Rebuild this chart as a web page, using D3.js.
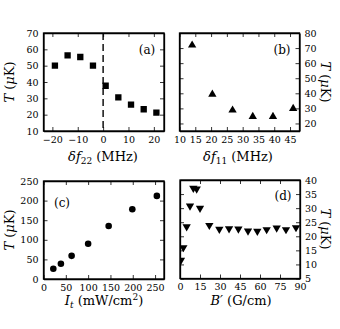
<!DOCTYPE html>
<html>
<head>
<meta charset="utf-8">
<script src="https://cdn.jsdelivr.net/npm/d3@7"></script>
<style>
  body { margin: 0; background: #fff; }
  svg text { fill: #000; }
  .axis path, .axis line { stroke: #000; }
</style>
</head>
<body>
<svg id="chart" width="340" height="329"></svg>
<script>
// panel (a): detuning of f=2 -> f'=2 beam
var a_x = [-19, -14, -9, -4, 1, 6, 11, 16, 21];
var a_y = [50, 56.3, 55.3, 50, 37.7, 30.6, 26.1, 23.3, 21.3];
var a_xticks = [-20, -10, 0, 10, 20];
var a_yticks = [10, 20, 30, 40, 50, 60, 70];

// panel (b): detuning of f=1 -> f'=1 beam
var b_x = [14, 20.4, 26.8, 33.2, 39.6, 46];
var b_y = [71.9, 39.3, 28.8, 24.6, 24.6, 29.9];
var b_xticks = [10, 15, 20, 25, 30, 35, 40, 45];
var b_yticks = [20, 30, 40, 50, 60, 70, 80];

// panel (c): total intensity
var c_x = [22, 39, 63, 100, 146, 199, 254];
var c_y = [26, 39, 59, 90, 135, 178, 212];
var c_xticks = [0, 50, 100, 150, 200, 250];
var c_yticks = [0, 50, 100, 150, 200, 250];

// panel (d): field gradient
var d_x = [0.7, 2.5, 5, 7.5, 10, 12.5, 15, 22, 29.5, 36.8, 43.8, 51, 58, 65, 72.5, 79.5, 87];
var d_y = [11.5, 16, 23.4, 30.8, 37.1, 36.8, 30, 23.9, 22.5, 22.7, 22.6, 21.9, 21.8, 22.4, 23, 22.4, 23.1];
var d_xticks = [0, 15, 30, 45, 60, 75, 90];
var d_yticks = [5, 10, 15, 20, 25, 30, 35, 40];

var serif = "'DejaVu Serif', serif";
var svg = d3.select("#chart");

function make_panel(opt) {
    var xScale = d3.scaleLinear().domain(opt.xdom).range([opt.left, opt.right]);
    var yScale = d3.scaleLinear().domain(opt.ydom).range([opt.bottom, opt.top]);
    var g = svg.append("g");

    // ticks pointing inward on all four sides
    g.append("g").attr("class", "axis")
        .attr("transform", "translate(0," + opt.bottom + ")")
        .call(d3.axisBottom(xScale).tickValues(opt.xticks).tickSize(-4).tickSizeOuter(0).tickPadding(5)
            .tickFormat(function(d) { return d < 0 ? "\u2212" + Math.abs(d) : d; }));
    g.append("g").attr("class", "axis")
        .attr("transform", "translate(0," + opt.top + ")")
        .call(d3.axisTop(xScale).tickValues(opt.xticks).tickSize(-4).tickSizeOuter(0).tickFormat(""));

    var yLeft = d3.axisLeft(yScale).tickValues(opt.yticks).tickSize(-4).tickSizeOuter(0);
    var yRight = d3.axisRight(yScale).tickValues(opt.yticks).tickSize(-4).tickSizeOuter(0);
    if (opt.yside == "left") {
        yLeft.tickPadding(5);
        yRight.tickFormat("");
    } else {
        yRight.tickPadding(5);
        yLeft.tickFormat("");
    }
    g.append("g").attr("class", "axis")
        .attr("transform", "translate(" + opt.left + ",0)")
        .call(yLeft);
    g.append("g").attr("class", "axis")
        .attr("transform", "translate(" + opt.right + ",0)")
        .call(yRight);

    g.selectAll(".axis").attr("font-family", serif).attr("font-size", 9.5);
    g.selectAll(".axis path").attr("stroke-width", 1.3);
    g.selectAll(".axis line").attr("stroke-width", 0.8);
    g.selectAll(".axis text").attr("fill", "#000");

    // frame
    g.append("rect")
        .attr("x", opt.left).attr("y", opt.top)
        .attr("width", opt.right - opt.left).attr("height", opt.bottom - opt.top)
        .attr("fill", "none").attr("stroke", "#000").attr("stroke-width", 1.3);

    var clipId = "clip" + opt.tag;
    svg.append("clipPath").attr("id", clipId)
        .append("rect")
        .attr("x", opt.left).attr("y", opt.top - 6)
        .attr("width", opt.right - opt.left + 6).attr("height", opt.bottom - opt.top + 12);

    if (opt.vline != null) {
        g.append("line")
            .attr("x1", xScale(opt.vline)).attr("x2", xScale(opt.vline))
            .attr("y1", opt.top).attr("y2", opt.bottom)
            .attr("stroke", "#000").attr("stroke-width", 1.4)
            .attr("stroke-dasharray", "7,4");
    }

    var pts = opt.xs.map(function(x, i) { return [x, opt.ys[i]]; });
    g.append("g").attr("clip-path", "url(#" + clipId + ")")
        .selectAll("path.pt")
        .data(pts)
        .enter().append("path")
        .attr("class", "pt")
        .attr("d", d3.symbol().type(opt.symbol).size(opt.size))
        .attr("transform", function(d) {
            return "translate(" + xScale(d[0]) + "," + yScale(d[1]) + ")" + (opt.flip ? " rotate(180)" : "");
        })
        .attr("fill", "#000");

    // panel tag
    g.append("text")
        .attr("x", opt.tagX).attr("y", opt.tagY)
        .attr("text-anchor", "middle")
        .attr("font-family", serif)
        .attr("font-size", "12px")
        .text(opt.name);

    return g;
}

make_panel({ name: "(a)", tag: "a", left: 43.5, right: 164, top: 33, bottom: 131,
    xdom: [-23.5, 24], ydom: [10, 70], xticks: a_xticks, yticks: a_yticks,
    xs: a_x, ys: a_y, symbol: d3.symbolSquare, size: 40, yside: "left",
    vline: 0, tagX: 147, tagY: 54 });

make_panel({ name: "(b)", tag: "b", left: 179.5, right: 299.5, top: 33, bottom: 131,
    xdom: [10, 48], ydom: [15, 80], xticks: b_xticks, yticks: b_yticks,
    xs: b_x, ys: b_y, symbol: d3.symbolTriangle, size: 30, yside: "right",
    tagX: 282, tagY: 54 });

make_panel({ name: "(c)", tag: "c", left: 43.5, right: 164, top: 181, bottom: 279,
    xdom: [0, 270], ydom: [0, 250], xticks: c_xticks, yticks: c_yticks,
    xs: c_x, ys: c_y, symbol: d3.symbolCircle, size: 34, yside: "left",
    tagX: 62, tagY: 207 });

make_panel({ name: "(d)", tag: "d", left: 180, right: 300, top: 180, bottom: 278.5,
    xdom: [0, 90], ydom: [5, 40], xticks: d_xticks, yticks: d_yticks,
    xs: d_x, ys: d_y, symbol: d3.symbolTriangle, size: 30, flip: true, yside: "right",
    tagX: 283, tagY: 200 });

// axis titles
function t_label(x, y, rot) {
    var t = svg.append("text")
        .attr("font-family", serif)
        .attr("font-size", "13px")
        .attr("text-anchor", "middle")
        .attr("transform", "translate(" + x + "," + y + ") rotate(" + rot + ")");
    t.append("tspan").attr("font-style", "italic").text("T");
    t.append("tspan").text(" (");
    t.append("tspan").attr("font-style", "italic").text("\u03bc");
    t.append("tspan").text("K)");
}
t_label(14, 82, -90);
t_label(14, 230, -90);
t_label(321, 82, 90);
t_label(321, 229, 90);

function df_label(x, y, sub) {
    var t = svg.append("text").attr("x", x).attr("y", y)
        .attr("font-family", serif)
        .attr("font-size", "13px").attr("text-anchor", "middle");
    t.append("tspan").attr("font-style", "italic").text("\u03b4f");
    t.append("tspan").attr("font-size", "9px").attr("dy", 3).text(sub);
    t.append("tspan").attr("dy", -3).text(" (MHz)");
}
df_label(103, 161, "22");
df_label(238, 161, "11");

var it = svg.append("text").attr("x", 104).attr("y", 305)
    .attr("font-family", serif)
    .attr("font-size", "13px").attr("text-anchor", "middle");
it.append("tspan").attr("font-style", "italic").text("I");
it.append("tspan").attr("font-style", "italic").attr("font-size", "9px").attr("dy", 3).text("t");
it.append("tspan").attr("dy", -3).text(" (mW/cm");
it.append("tspan").attr("font-size", "9px").attr("dy", -5).text("2");
it.append("tspan").attr("dy", 5).text(")");

var bl = svg.append("text").attr("x", 241).attr("y", 305)
    .attr("font-family", serif)
    .attr("font-size", "13px").attr("text-anchor", "middle");
bl.append("tspan").attr("font-style", "italic").text("B\u2032");
bl.append("tspan").text(" (G/cm)");
</script>
</body>
</html>
